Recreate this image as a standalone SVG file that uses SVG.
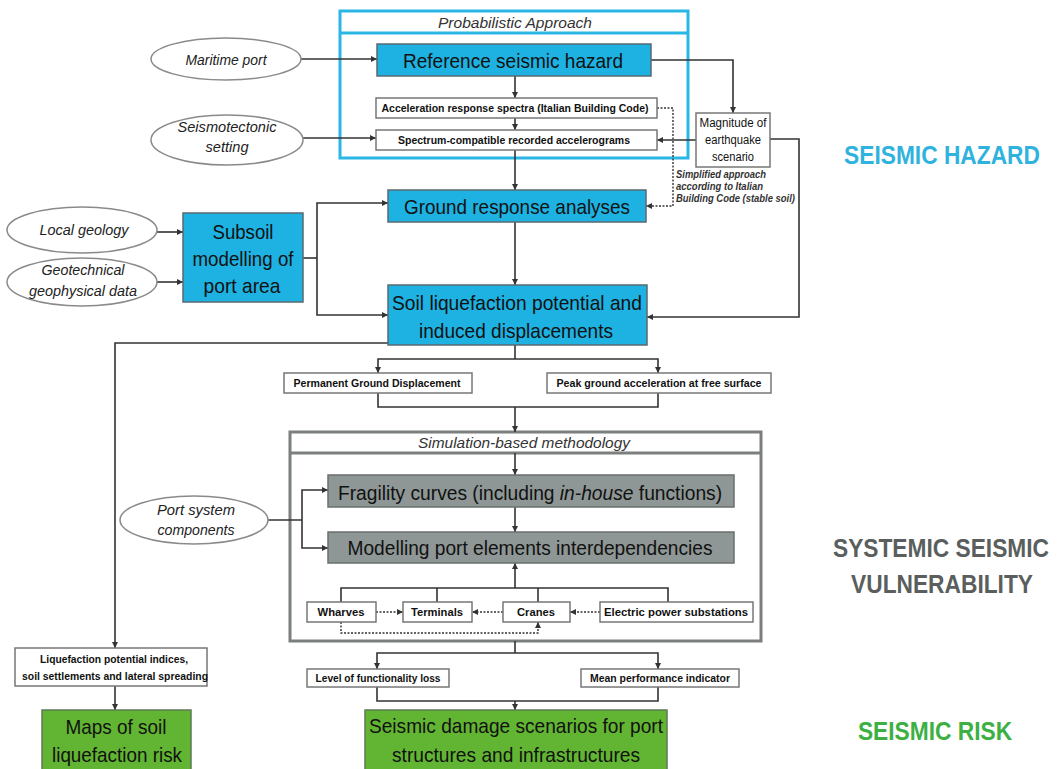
<svg xmlns="http://www.w3.org/2000/svg" width="1062" height="769" viewBox="0 0 1062 769">
  <style>
    text { font-family: "Liberation Sans", Arial, sans-serif; fill: #111; }
    .big { font-size: 21px; text-anchor: middle; }
    .small { font-size: 11px; font-weight: bold; text-anchor: middle; }
    .oval { font-size: 14px; font-style: italic; text-anchor: middle; fill: #222; }
    .note { font-size: 10px; font-style: italic; font-weight: bold; fill: #333; }
    .head { font-size: 14px; font-style: italic; text-anchor: middle; fill: #333; }
    .cyan { fill: #1db2e2; stroke: #5a6a70; stroke-width: 1.5; }
    .green { fill: #62b532; stroke: #5f7a55; stroke-width: 1.5; }
    .grey { fill: #8e9795; stroke: #6a6f6e; stroke-width: 1.5; }
    .plain { fill: #fff; stroke: #777; stroke-width: 1.5; }
    .ell { fill: #fff; stroke: #8a8a8a; stroke-width: 1.5; }
    .wire { fill: none; stroke: #333; stroke-width: 1.6; }
    .dash { fill: none; stroke: #333; stroke-width: 1.4; stroke-dasharray: 2 1.5; }
    .label { font-size: 25px; font-weight: bold; text-anchor: middle; }
  </style>
  <defs>
    <marker id="arr" viewBox="0 0 10 10" refX="10" refY="5" markerWidth="6" markerHeight="6" markerUnits="userSpaceOnUse" orient="auto">
      <path d="M0,0 L10,5 L0,10 z" fill="#333"/>
    </marker>
  </defs>

  <rect width="1062" height="769" fill="#fff"/>

  <!-- Frames -->
  <g id="probabilistic-frame">
    <rect x="340" y="11" width="348" height="147" fill="none" stroke="#2ab7e6" stroke-width="3"/>
    <line x1="340" y1="33" x2="688" y2="33" stroke="#2ab7e6" stroke-width="3"/>
    <text class="head" x="515" y="28" textLength="154" lengthAdjust="spacingAndGlyphs">Probabilistic Approach</text>
  </g>
  <g id="simulation-frame">
    <rect x="290" y="432" width="471" height="209" fill="none" stroke="#7b7f7e" stroke-width="3"/>
    <line x1="290" y1="453" x2="761" y2="453" stroke="#7b7f7e" stroke-width="3"/>
    <text class="head" x="524" y="448" textLength="212" lengthAdjust="spacingAndGlyphs">Simulation-based methodology</text>
  </g>

  <!-- Connectors -->
  <g id="connectors">
    <path class="wire" d="M301,59 H377" marker-end="url(#arr)"/>
    <path class="wire" d="M303,138 H376" marker-end="url(#arr)"/>
    <path class="wire" d="M515,76 V98" marker-end="url(#arr)"/>
    <path class="wire" d="M515,118 V130" marker-end="url(#arr)"/>
    <path class="wire" d="M515,150 V190" marker-end="url(#arr)"/>
    <path class="wire" d="M651,60 H733 V113" marker-end="url(#arr)"/>
    <path class="wire" d="M696,140 H657" marker-end="url(#arr)"/>
    <path class="wire" d="M770,139 H799 V317 H647" marker-end="url(#arr)"/>
    <path class="dash" d="M657,108 H673 V206 H646" marker-end="url(#arr)"/>
    <path class="wire" d="M157,232 H183" marker-end="url(#arr)"/>
    <path class="wire" d="M157,282 H183" marker-end="url(#arr)"/>
    <path class="wire" d="M303,258 H317"/>
    <path class="wire" d="M317,258 V203 H388" marker-end="url(#arr)"/>
    <path class="wire" d="M317,258 V315 H388" marker-end="url(#arr)"/>
    <path class="wire" d="M515,222 V285" marker-end="url(#arr)"/>
    <path class="wire" d="M388,343 H115 V648" marker-end="url(#arr)"/>
    <path class="wire" d="M515,345 V359"/>
    <path class="wire" d="M515,359 H378 V373" marker-end="url(#arr)"/>
    <path class="wire" d="M515,359 H658 V373" marker-end="url(#arr)"/>
    <path class="wire" d="M378,393 V407 H658 V393"/>
    <path class="wire" d="M515,407 V432" marker-end="url(#arr)"/>
    <path class="wire" d="M515,453 V475" marker-end="url(#arr)"/>
    <path class="wire" d="M515,507 V532" marker-end="url(#arr)"/>
    <path class="wire" d="M268,520 H302"/>
    <path class="wire" d="M302,520 V490 H328" marker-end="url(#arr)"/>
    <path class="wire" d="M302,520 V548 H328" marker-end="url(#arr)"/>
    <path class="wire" d="M515,588 V563" marker-end="url(#arr)"/>
    <path class="wire" d="M341,602 V588 H668 V602"/>
    <path class="wire" d="M437,588 V602"/>
    <path class="wire" d="M538,588 V602"/>
    <path class="dash" d="M376,612 H403" marker-end="url(#arr)"/>
    <path class="dash" d="M503,612 H472" marker-end="url(#arr)"/>
    <path class="dash" d="M600,612 H570" marker-end="url(#arr)"/>
    <path class="dash" d="M341,622 V633 H538 V622" marker-end="url(#arr)"/>
    <path class="wire" d="M515,641 V653"/>
    <path class="wire" d="M515,653 H377 V669" marker-end="url(#arr)"/>
    <path class="wire" d="M515,653 H658 V669" marker-end="url(#arr)"/>
    <path class="wire" d="M377,687 V701 H658 V687"/>
    <path class="wire" d="M515,701 V710" marker-end="url(#arr)"/>
    <path class="wire" d="M115,686 V710" marker-end="url(#arr)"/>
  </g>

  <!-- Input ellipses -->
  <g id="maritime-port">
    <ellipse class="ell" cx="226" cy="59" rx="75" ry="21"/>
    <text class="oval" x="226" y="65" textLength="81" lengthAdjust="spacingAndGlyphs">Maritime port</text>
  </g>
  <g id="seismotectonic-setting">
    <ellipse class="ell" cx="227" cy="140" rx="76" ry="25"/>
    <text class="oval" x="227" y="132" textLength="99" lengthAdjust="spacingAndGlyphs">Seismotectonic</text>
    <text class="oval" x="227" y="152" textLength="43" lengthAdjust="spacingAndGlyphs">setting</text>
  </g>
  <g id="local-geology">
    <ellipse class="ell" cx="82" cy="230" rx="75" ry="23"/>
    <text class="oval" x="84" y="235" textLength="89" lengthAdjust="spacingAndGlyphs">Local geology</text>
  </g>
  <g id="geotechnical-data">
    <ellipse class="ell" cx="82" cy="282" rx="75" ry="24"/>
    <text class="oval" x="83" y="275" textLength="83" lengthAdjust="spacingAndGlyphs">Geotechnical</text>
    <text class="oval" x="83" y="296" textLength="108" lengthAdjust="spacingAndGlyphs">geophysical data</text>
  </g>
  <g id="port-system-components">
    <ellipse class="ell" cx="194" cy="520" rx="74" ry="24"/>
    <text class="oval" x="196" y="515" textLength="78" lengthAdjust="spacingAndGlyphs">Port system</text>
    <text class="oval" x="196" y="535" textLength="77" lengthAdjust="spacingAndGlyphs">components</text>
  </g>

  <!-- Seismic hazard nodes -->
  <g id="reference-seismic-hazard">
    <rect class="cyan" x="377" y="44" width="274" height="32"/>
    <text class="big" x="513" y="68" textLength="220" lengthAdjust="spacingAndGlyphs">Reference seismic hazard</text>
  </g>
  <g id="acceleration-spectra">
    <rect class="plain" x="376" y="98" width="281" height="20"/>
    <text class="small" x="515" y="112" textLength="267" lengthAdjust="spacingAndGlyphs">Acceleration response spectra (Italian Building Code)</text>
  </g>
  <g id="recorded-accelerograms">
    <rect class="plain" x="376" y="130" width="281" height="20"/>
    <text class="small" x="514" y="144" textLength="232" lengthAdjust="spacingAndGlyphs">Spectrum-compatible recorded accelerograms</text>
  </g>
  <g id="magnitude-scenario">
    <rect class="plain" x="696" y="113" width="74" height="54"/>
    <text class="small" x="733" y="127" style="font-size:12px;font-weight:normal" textLength="67" lengthAdjust="spacingAndGlyphs">Magnitude of</text>
    <text class="small" x="733" y="144" style="font-size:12px;font-weight:normal" textLength="56" lengthAdjust="spacingAndGlyphs">earthquake</text>
    <text class="small" x="733" y="161" style="font-size:12px;font-weight:normal" textLength="42" lengthAdjust="spacingAndGlyphs">scenario</text>
  </g>
  <g id="simplified-approach-note">
    <text class="note" x="676" y="178" textLength="90" lengthAdjust="spacingAndGlyphs">Simplified approach</text>
    <text class="note" x="676" y="190" textLength="87" lengthAdjust="spacingAndGlyphs">according to Italian</text>
    <text class="note" x="676" y="202" textLength="119" lengthAdjust="spacingAndGlyphs">Building Code (stable soil)</text>
  </g>
  <g id="subsoil-modelling">
    <rect class="cyan" x="183" y="213" width="120" height="89"/>
    <text class="big" x="243" y="239" textLength="61" lengthAdjust="spacingAndGlyphs">Subsoil</text>
    <text class="big" x="243" y="266" textLength="101" lengthAdjust="spacingAndGlyphs">modelling of</text>
    <text class="big" x="242" y="293" textLength="77" lengthAdjust="spacingAndGlyphs">port area</text>
  </g>
  <g id="ground-response-analyses">
    <rect class="cyan" x="388" y="190" width="258" height="32"/>
    <text class="big" x="517" y="214" textLength="226" lengthAdjust="spacingAndGlyphs">Ground response analyses</text>
  </g>
  <g id="soil-liquefaction-potential">
    <rect class="cyan" x="388" y="285" width="259" height="60"/>
    <text class="big" x="517" y="310" textLength="250" lengthAdjust="spacingAndGlyphs">Soil liquefaction potential and</text>
    <text class="big" x="516" y="338" textLength="194" lengthAdjust="spacingAndGlyphs">induced displacements</text>
  </g>
  <g id="permanent-ground-displacement">
    <rect class="plain" x="284" y="373" width="188" height="20"/>
    <text class="small" x="377" y="387" textLength="167" lengthAdjust="spacingAndGlyphs">Permanent Ground Displacement</text>
  </g>
  <g id="peak-ground-acceleration">
    <rect class="plain" x="547" y="373" width="224" height="20"/>
    <text class="small" x="659" y="387" textLength="205" lengthAdjust="spacingAndGlyphs">Peak ground acceleration at free surface</text>
  </g>

  <!-- Vulnerability nodes -->
  <g id="fragility-curves">
    <rect class="grey" x="328" y="475" width="406" height="32"/>
    <text class="big" transform="translate(530,500) scale(0.915,1)" x="0" y="0">Fragility curves (including <tspan font-style="italic">in-house</tspan> functions)</text>
  </g>
  <g id="interdependencies">
    <rect class="grey" x="328" y="532" width="406" height="31"/>
    <text class="big" x="530" y="555" textLength="365" lengthAdjust="spacingAndGlyphs">Modelling port elements interdependencies</text>
  </g>
  <g id="wharves">
    <rect class="plain" x="307" y="602" width="69" height="20"/>
    <text class="small" x="341" y="616" textLength="47" lengthAdjust="spacingAndGlyphs">Wharves</text>
  </g>
  <g id="terminals">
    <rect class="plain" x="403" y="602" width="69" height="20"/>
    <text class="small" x="437" y="616" textLength="52" lengthAdjust="spacingAndGlyphs">Terminals</text>
  </g>
  <g id="cranes">
    <rect class="plain" x="503" y="602" width="67" height="20"/>
    <text class="small" x="536" y="616" textLength="38" lengthAdjust="spacingAndGlyphs">Cranes</text>
  </g>
  <g id="electric-power-substations">
    <rect class="plain" x="600" y="602" width="153" height="20"/>
    <text class="small" x="676" y="616" textLength="144" lengthAdjust="spacingAndGlyphs">Electric power substations</text>
  </g>

  <!-- Risk nodes -->
  <g id="functionality-loss">
    <rect class="plain" x="307" y="669" width="142" height="18"/>
    <text class="small" x="378" y="682" textLength="125" lengthAdjust="spacingAndGlyphs">Level of functionality loss</text>
  </g>
  <g id="mean-performance-indicator">
    <rect class="plain" x="581" y="669" width="158" height="18"/>
    <text class="small" x="660" y="682" textLength="140" lengthAdjust="spacingAndGlyphs">Mean performance indicator</text>
  </g>
  <g id="liquefaction-indices">
    <rect class="plain" x="15" y="648" width="192" height="38"/>
    <text class="small" x="114" y="663" textLength="148" lengthAdjust="spacingAndGlyphs">Liquefaction potential indices,</text>
    <text class="small" x="115" y="680" textLength="186" lengthAdjust="spacingAndGlyphs">soil settlements and lateral spreading</text>
  </g>
  <g id="liquefaction-risk-maps">
    <rect class="green" x="42" y="710" width="149" height="64"/>
    <text class="big" x="116" y="734" textLength="101" lengthAdjust="spacingAndGlyphs">Maps of soil</text>
    <text class="big" x="117" y="762" textLength="130" lengthAdjust="spacingAndGlyphs">liquefaction risk</text>
  </g>
  <g id="damage-scenarios">
    <rect class="green" x="365" y="710" width="302" height="64"/>
    <text class="big" x="516" y="733" textLength="294" lengthAdjust="spacingAndGlyphs">Seismic damage scenarios for port</text>
    <text class="big" x="516" y="762" textLength="248" lengthAdjust="spacingAndGlyphs">structures and infrastructures</text>
  </g>

  <!-- Section labels -->
  <g id="section-labels">
    <text class="label" transform="translate(942,164) scale(0.91,1)" style="fill:#2fb3de">SEISMIC HAZARD</text>
    <text class="label" transform="translate(941,557) scale(0.91,1)" style="fill:#5a5f5e">SYSTEMIC SEISMIC</text>
    <text class="label" transform="translate(942,593) scale(0.91,1)" style="fill:#5a5f5e">VULNERABILITY</text>
    <text class="label" transform="translate(935,740) scale(0.91,1)" style="fill:#3cb043">SEISMIC RISK</text>
  </g>
</svg>
